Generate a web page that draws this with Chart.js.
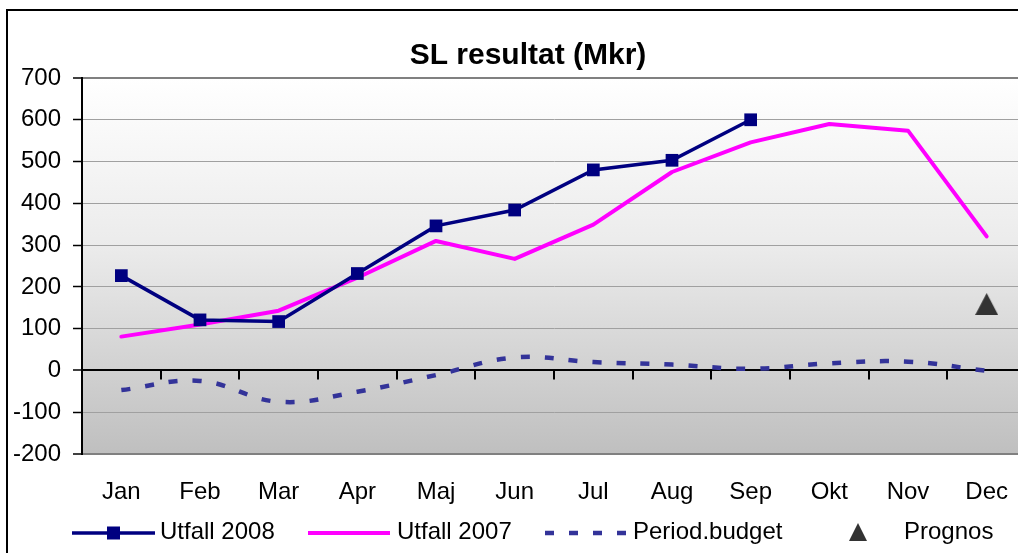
<!DOCTYPE html>
<html>
<head>
<meta charset="utf-8">
<script src="https://cdn.jsdelivr.net/npm/chart.js@4/dist/chart.umd.min.js"></script>
<style>
  html, body { margin: 0; padding: 0; background: #fff; overflow: hidden; width: 1018px; height: 553px; }
  #frame { position: absolute; left: 6px; top: 9px; width: 1100px; height: 600px; border: 2px solid #000; box-sizing: border-box; }
  #wrap { position: absolute; left: 0; top: 0; width: 1052px; height: 553px; }
</style>
</head>
<body>
<div id="frame"></div>
<div id="wrap"><canvas id="c" width="1052" height="553"></canvas></div>
<script>
const categories = ['Jan','Feb','Mar','Apr','Maj','Jun','Jul','Aug','Sep','Okt','Nov','Dec'];
const utfall2008 = [227, 121, 117, 232, 346, 384, 480, 503, 600, null, null, null];
const utfall2007 = [81, 110, 143, 222, 310, 267, 349, 475, 546, 590, 574, 321];
const periodBudget = [-47, -25, -75, -51, -11, 31, 20, 14, 4, 17, 21, -1];
const prognos = [null, null, null, null, null, null, null, null, null, null, null, 159];
const yMin = -200, yMax = 700, yStep = 100;
const titleText = 'SL resultat (Mkr)';
const seriesNames = ['Utfall 2008', 'Utfall 2007', 'Period.budget', 'Prognos'];

const FONT = '"Liberation Sans", Arial, sans-serif';

function triangleImage(w, h, color) {
  const cv = document.createElement('canvas');
  cv.width = w; cv.height = h;
  const g = cv.getContext('2d');
  g.fillStyle = color;
  g.beginPath();
  g.moveTo(w / 2, 0);
  g.lineTo(w, h);
  g.lineTo(0, h);
  g.closePath();
  g.fill();
  return cv;
}
const triMark = triangleImage(23, 22, '#333333');

const bgPlugin = {
  id: 'bgPlugin',
  beforeDraw(chart) {
    const a = chart.chartArea, ctx = chart.ctx;
    const g = ctx.createLinearGradient(0, a.top, 0, a.bottom);
    g.addColorStop(0, '#ffffff');
    g.addColorStop(0.45, '#ebebeb');
    g.addColorStop(1, '#bfbfbf');
    ctx.save();
    ctx.fillStyle = g;
    ctx.fillRect(a.left, a.top, a.right - a.left, a.bottom - a.top);
    ctx.restore();
  },
  afterDatasetsDraw(chart) {
    const x = chart.scales.x, y = chart.scales.y, ctx = chart.ctx;
    const y0 = y.getPixelForValue(0);
    const n = categories.length;
    const w = (x.right - x.left) / n;
    ctx.save();
    ctx.strokeStyle = '#000';
    ctx.lineWidth = 2;
    ctx.beginPath();
    for (let i = 1; i < n; i++) {
      const px = Math.round(x.left + i * w);
      ctx.moveTo(px, y0);
      ctx.lineTo(px, y0 + 9);
    }
    ctx.stroke();
    ctx.restore();
  },
  afterDraw(chart) {
    const ctx = chart.ctx;
    const ds = chart.data.datasets;
    // title
    ctx.save();
    ctx.font = 'bold 30px ' + FONT;
    ctx.textAlign = 'center';
    ctx.textBaseline = 'middle';
    ctx.fillStyle = '#000';
    ctx.fillText(titleText, 528, 56);
    ctx.restore();
    // legend
    const ly = 533;
    const items = [
      { x0: 72, x1: 155, tx: 160 },
      { x0: 308, x1: 390, tx: 397 },
      { x0: 545, x1: 626, tx: 633 },
      { x0: 817, x1: 899, tx: 904 }
    ];
    ctx.save();
    ctx.font = '24px ' + FONT;
    ctx.textBaseline = 'middle';
    ctx.fillStyle = '#000';
    items.forEach((it, i) => {
      const d = ds[i];
      if (i < 3) {
        ctx.save();
        ctx.strokeStyle = d.borderColor;
        ctx.lineWidth = d.borderWidth;
        ctx.lineCap = 'butt';
        if (d.borderDash) ctx.setLineDash(d.borderDash);
        ctx.beginPath();
        ctx.moveTo(it.x0, ly);
        ctx.lineTo(it.x1, ly);
        ctx.stroke();
        ctx.restore();
        if (i === 0) {
          const cx = (it.x0 + it.x1) / 2;
          ctx.fillStyle = d.pointBackgroundColor;
          ctx.fillRect(cx - 6.5, ly - 6.5, 13, 13);
          ctx.fillStyle = '#000';
        }
      } else {
        const cx = (it.x0 + it.x1) / 2;
        ctx.drawImage(triangleImage(18, 18, '#333333'), cx - 9, ly - 10);
      }
      ctx.fillText(d.label, it.tx, ly - 1);
    });
    ctx.restore();
  }
};

new Chart(document.getElementById('c'), {
  type: 'line',
  data: {
    labels: categories,
    datasets: [
      {
        label: seriesNames[0], data: utfall2008,
        borderColor: '#000080', backgroundColor: '#000080', borderWidth: 3.5,
        pointStyle: 'rect', pointRadius: 9, pointBackgroundColor: '#000080', pointBorderWidth: 0,
        tension: 0, spanGaps: false, order: 1
      },
      {
        label: seriesNames[1], data: utfall2007,
        borderColor: '#ff00ff', backgroundColor: '#ff00ff', borderWidth: 4,
        pointRadius: 0, tension: 0, order: 2, borderJoinStyle: 'round', borderCapStyle: 'round'
      },
      {
        label: seriesNames[2], data: periodBudget,
        borderColor: '#333399', backgroundColor: '#333399', borderWidth: 4.5,
        borderDash: [9, 15], borderCapStyle: 'butt',
        pointRadius: 0, tension: 0.4, cubicInterpolationMode: 'default', order: 3
      },
      {
        label: seriesNames[3], data: prognos,
        showLine: false, pointStyle: triMark, pointRadius: 11,
        borderColor: '#333333', backgroundColor: '#333333', order: 0
      }
    ]
  },
  options: {
    responsive: false,
    animation: false,
    events: [],
    layout: { padding: { left: 0, right: 26, top: 78, bottom: 0 } },
    plugins: {
      legend: { display: false },
      tooltip: { enabled: false },
      title: { display: false }
    },
    scales: {
      x: {
        type: 'category', offset: true,
        grid: { display: false, drawTicks: false },
        border: { display: false },
        ticks: { color: '#000', font: { family: FONT, size: 24 }, padding: 24, maxRotation: 0, autoSkip: false },
        afterFit(s) { s.height = 99; }
      },
      y: {
        min: yMin, max: yMax,
        ticks: { stepSize: yStep, color: '#000', font: { family: FONT, size: 24 }, padding: 12 },
        grid: {
          color: c => c.tick.value === 0 ? '#000' : ((c.tick.value === yMax || c.tick.value === yMin) ? '#808080' : '#a0a0a0'),
          lineWidth: c => c.tick.value === 0 ? 2 : ((c.tick.value === yMax || c.tick.value === yMin) ? 2 : 1),
          tickColor: '#000', tickLength: 9, tickWidth: 1.5
        },
        border: { display: true, color: '#000', width: 2 },
        afterFit(s) { s.width = 82; }
      }
    }
  },
  plugins: [bgPlugin]
});
</script>
</body>
</html>
